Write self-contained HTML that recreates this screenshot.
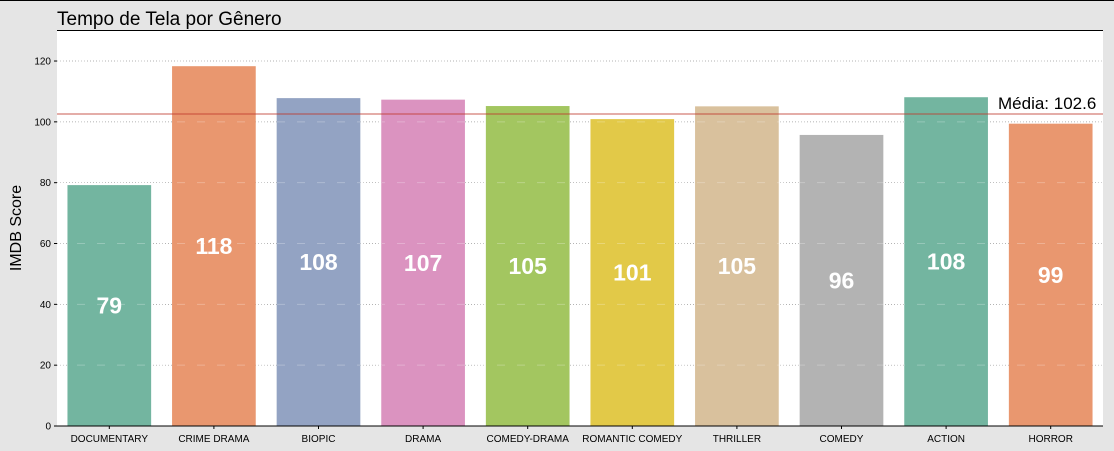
<!DOCTYPE html>
<html><head><meta charset="utf-8"><style>
body{margin:0;background:#e5e5e5;font-family:"Liberation Sans","DejaVu Sans",sans-serif;}
svg{display:block}
</style></head><body>
<svg id="c" width="1114" height="451">
<rect x="0" y="0" width="1114" height="451" fill="#e5e5e5"/>
<line x1="0" y1="0.5" x2="1114" y2="0.5" stroke="#000"/>
<rect x="57" y="30" width="1046" height="396" fill="#fff"/>
<text x="57" y="25" font-size="19" fill="#000">Tempo de Tela por Gênero</text>
<text transform="translate(21,228) rotate(-90)" text-anchor="middle" font-size="16">IMDB Score</text>
<g id="grid"></g><g id="bars"></g><g id="over"></g><g id="axes"></g>
</svg>
<script>
const categories=["DOCUMENTARY","CRIME DRAMA","BIOPIC","DRAMA","COMEDY-DRAMA","ROMANTIC COMEDY","THRILLER","COMEDY","ACTION","HORROR"];
const values=[79.2,118.3,107.8,107.3,105.2,100.9,105.1,95.7,108.1,99.4];
const yTicks=[0,20,40,60,80,100,120];
const meanValue=[102.6];
const colors=["#73b5a0","#e9976f","#93a3c3","#db93c0","#a3c660","#e2c948","#d9c19d","#b3b3b3","#73b5a0","#e9976f"];
const L=57,R=1103,T=30,B=426,YMAX=130.2;
const ns="http://www.w3.org/2000/svg";
const y=v=>B-(v/YMAX)*(B-T);
const step=(R-L)/categories.length;
const x=i=>L+step*i;
function mk(tag,attrs,parent,text){const e=document.createElementNS(ns,tag);for(const k in attrs)e.setAttribute(k,attrs[k]);if(text!=null)e.textContent=text;document.getElementById(parent).appendChild(e);return e;}
yTicks.forEach(t=>{
  if(t>0){const g=mk('line',{x1:L,x2:R,y1:y(t),y2:y(t),stroke:'#999','stroke-width':0.7,'stroke-dasharray':'1,2'},'grid');
  
  
  const o=mk('line',{x1:L,x2:R,y1:y(t),y2:y(t),stroke:'#fff','stroke-opacity':0.25,'stroke-width':1,'stroke-dasharray':'8,12'},'over');
  
  }
  const tl=mk('text',{x:L-6,y:y(t)+3.5,'text-anchor':'end','font-size':10},'axes',String(t));
  
  
  const tk=mk('line',{x1:L-3,x2:L,y1:y(t),y2:y(t),stroke:'#000'},'axes');
  
  
});
const bw=step*0.8;
values.forEach((v,i)=>{
  const bx=x(i)+(step-bw)/2;
  const r=mk('rect',{x:bx,y:y(v),width:bw,height:B-y(v),fill:colors[i]},'bars');
  
  
  const lb=mk('text',{x:bx+bw/2,y:y(v/2)+8,'text-anchor':'middle','font-size':23,'font-weight':'bold',fill:'#fff'},'over',String(Math.round(v)));
  
  
  const cl=mk('text',{x:x(i)+step/2,y:B+16,'text-anchor':'middle','font-size':10},'axes',categories[i]);
  
  
  const xt=mk('line',{x1:x(i)+step/2,x2:x(i)+step/2,y1:B,y2:B+3,stroke:'#000'},'axes');
  
  
});
const ml=mk('line',{x1:L,x2:R,y1:y(meanValue[0]),y2:y(meanValue[0]),stroke:'#c0392b','stroke-opacity':0.55,'stroke-width':1.5},'over');


const mt=mk('text',{x:998,y:y(meanValue[0])-5,'font-size':17},'over','Média: '+meanValue[0]);


const sp=mk('line',{x1:L,x2:R,y1:B,y2:B,stroke:'#000'},'axes');


const tp=mk('line',{x1:L,x2:R,y1:T+0.5,y2:T+0.5,stroke:'#000'},'axes');


</script>
</body></html>
